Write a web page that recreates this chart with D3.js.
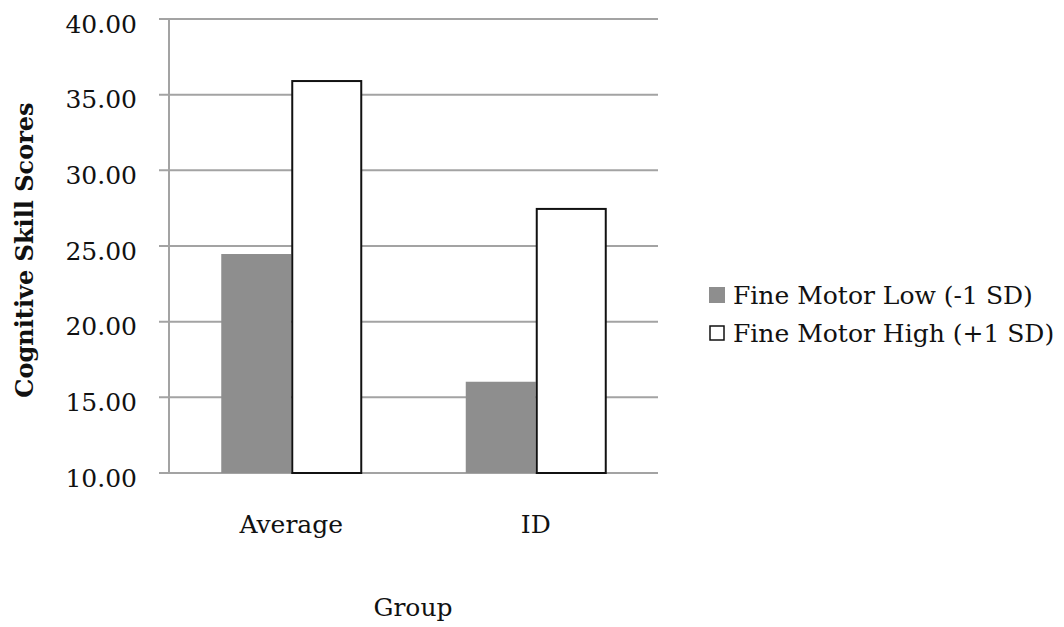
<!DOCTYPE html>
<html><head><meta charset="utf-8">
<script src="https://cdn.jsdelivr.net/npm/d3@7"></script>
<style>body{margin:0;background:#fff;} text{font-family:"DejaVu Serif",serif;fill:#111;}</style>
</head><body><svg id="c" width="1064" height="627"></svg>
<script>
const categories = ["Average", "ID"];
const seriesNames = ["Fine Motor Low (-1 SD)", "Fine Motor High (+1 SD)"];
const lowValues = [24.47, 16.03];
const highValues = [35.9, 27.45];
const yTicks = [10, 15, 20, 25, 30, 35, 40];

const svg = d3.select("#c");
const L = 169, R = 658, T = 19, B = 473;
const x = d3.scaleBand().domain(categories).range([L, R]).paddingInner(0).paddingOuter(0);
const xs = d3.scaleBand().domain([0,1]).range([0, 140]);
const y = d3.scaleLinear().domain([10, 40]).range([B, T]);
const fs = 25;

// gridlines
svg.append("g").selectAll("line").data(yTicks).join("line")
  .attr("x1", L - 10).attr("x2", R).attr("y1", d => y(d)).attr("y2", d => y(d))
  .attr("stroke", "#a3a3a3").attr("stroke-width", 2);
svg.append("line").attr("x1", L).attr("x2", L).attr("y1", T).attr("y2", B)
  .attr("stroke", "#a3a3a3").attr("stroke-width", 2);

// tick labels
svg.append("g").selectAll("text").data(yTicks).join("text")
  .attr("x", 137).attr("y", d => y(d) + 5).attr("dy", "0.35em")
  .attr("text-anchor", "end").attr("font-size", fs).text(d => d3.format(".2f")(d));

const series = [lowValues, highValues];
const fills = ["#8e8e8e", "#ffffff"];
series.forEach((vals, si) => {
  svg.append("g").selectAll("rect").data(categories).join("rect")
    .attr("x", (c) => x(c) + x.bandwidth()/2 - 70 + xs(si) + (si ? 1 : 0))
    .attr("width", si ? 69 : 70)
    .attr("y", (c, i) => y(vals[i]))
    .attr("height", (c, i) => B - y(vals[i]))
    .attr("fill", fills[si])
    .attr("stroke", si ? "#111" : "none").attr("stroke-width", 2);
});

// category labels
svg.append("g").selectAll("text").data(categories).join("text")
  .attr("x", c => x(c) + x.bandwidth()/2).attr("y", 533)
  .attr("text-anchor", "middle").attr("font-size", fs).text(c => c);

svg.append("text").attr("x", 413).attr("y", 616).attr("text-anchor", "middle")
  .attr("font-size", fs).text("Group");

svg.append("text").attr("transform", "translate(33,250) rotate(-90)")
  .attr("text-anchor", "middle").attr("font-size", 24).attr("font-weight", "bold")
  .text("Cognitive Skill Scores");

// legend
const lg = svg.append("g");
seriesNames.forEach((n, i) => {
  const cy = 295 + i * 38;
  lg.append("rect").attr("x", i ? 710 : 709).attr("y", cy - 8 + (i?1:0)).attr("width", i ? 14 : 16).attr("height", i ? 14 : 16)
    .attr("fill", fills[i]).attr("stroke", i ? "#111" : "none").attr("stroke-width", 1.5);
  lg.append("text").attr("x", 733).attr("y", cy).attr("dy", "0.35em").attr("font-size", 25).text(n);
});
</script></body></html>
